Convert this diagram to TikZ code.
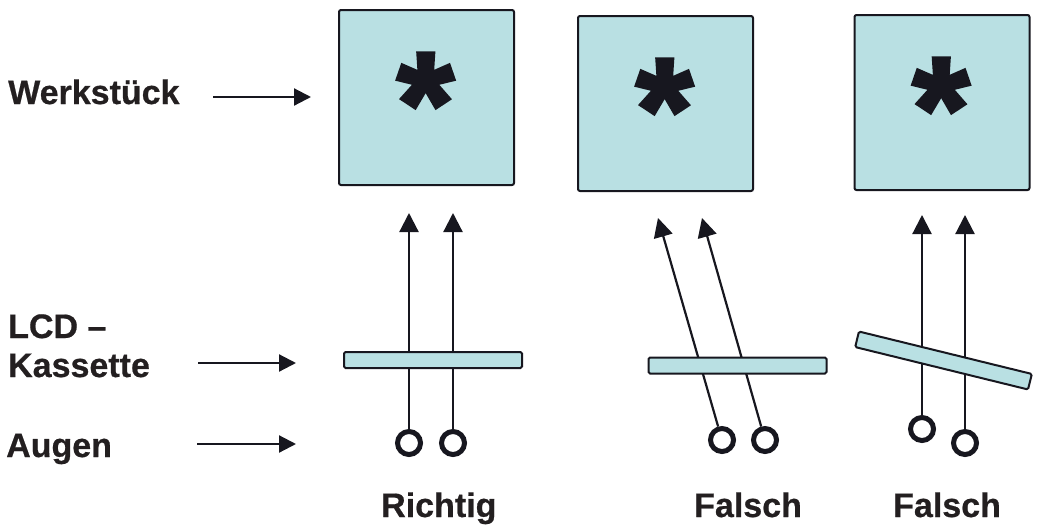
\documentclass[tikz,border=0pt]{standalone}
\usepackage{fontspec}
\setmainfont{Liberation Sans}
\newfontfamily\starfont[FakeBold=2.5]{Liberation Sans Bold}
\newfontfamily\lblfont[FakeBold=0.6]{Liberation Sans Bold}
\usetikzlibrary{arrows.meta}
\definecolor{lcd}{HTML}{B9E0E3}
\definecolor{ink}{HTML}{17171F}
\definecolor{txt}{HTML}{231F20}
\begin{document}
\begin{tikzpicture}[x=1pt,y=-1pt,
  lbl/.style={font=\fontsize{34}{39}\lblfont, text=txt, inner sep=0pt, anchor=base west},
  work/.style={draw=ink, fill=lcd, line width=2pt, rounded corners=2pt, minimum width=175pt, minimum height=175pt, inner sep=0pt},
  star/.style={font=\fontsize{146}{146}\starfont, text=ink, inner sep=0pt, anchor=north},
  bar/.style={draw=ink, fill=lcd, line width=2pt, rounded corners=1.5pt, minimum width=178pt, minimum height=16pt, inner sep=0pt},
  eye/.style={circle, draw=ink, line width=5pt, minimum size=23pt, inner sep=0pt, fill=white},
  ray/.style={draw=ink, line width=2.2pt, -{Triangle[length=19pt,width=19pt]}},
  pointer/.style={draw=ink, line width=2.2pt, -{Triangle[length=17pt,width=17pt]}}
]
\useasboundingbox (0,0) rectangle (1039,525);

% labels on the left
\node[lbl] (lwerk) at (8,104) {Werkstück};
\node[lbl] (llcd) at (8,338) {LCD –};
\node[lbl] (lkas) at (8,377) {Kassette};
\node[lbl] (laug) at (6,457) {Augen};
\coordinate (pw1) at (213,97);  \coordinate (pw2) at (311,97);
\coordinate (pk1) at (198,363); \coordinate (pk2) at (296,363);
\coordinate (pa1) at (197,444); \coordinate (pa2) at (296,444);
\draw[pointer] (pw1) -- (pw2);
\draw[pointer] (pk1) -- (pk2);
\draw[pointer] (pa1) -- (pa2);

% workpieces
\node[work] (w1) at (426.5,97.5) {};
\node[work] (w2) at (665.5,103.5) {};
\node[work] (w3) at (942,102.5) {};
\node[star] (s1) at ([xshift=-1pt,yshift=-44pt]w1.north) {*};
\node[star] (s2) at ([xshift=-1pt,yshift=-44pt]w2.north) {*};
\node[star] (s3) at ([xshift=-1pt,yshift=-44pt]w3.north) {*};

% case 1: correct
\node[eye] (e1a) at (409,443) {};
\node[eye] (e1b) at (453,443) {};
\coordinate (t1a) at (409,213);
\coordinate (t1b) at (453,213);
\draw[ray] (e1a) -- (t1a);
\draw[ray] (e1b) -- (t1b);
\node[bar] (b1) at (433,360) {};

% case 2: oblique view
\node[eye] (e2a) at (722,440) {};
\node[eye] (e2b) at (765,440) {};
\coordinate (t2a) at (658,218);
\coordinate (t2b) at (702,218);
\draw[ray] (e2a) -- (t2a);
\draw[ray] (e2b) -- (t2b);
\node[bar] (b2) at (737.5,365.5) {};

% case 3: tilted cassette
\node[eye] (e3a) at (922,429) {};
\node[eye] (e3b) at (965,443) {};
\coordinate (t3a) at (922,215);
\coordinate (t3b) at (965,215);
\draw[ray] (e3a) -- (t3a);
\draw[ray] (e3b) -- (t3b);
\node[bar, rotate=-13.8] (b3) at (943.5,360.5) {};

% captions
\node[lbl] (c1) at (381,517) {Richtig};
\node[lbl] (c2) at (694,517) {Falsch};
\node[lbl] (c3) at (893,517) {Falsch};
\end{tikzpicture}
\end{document}
